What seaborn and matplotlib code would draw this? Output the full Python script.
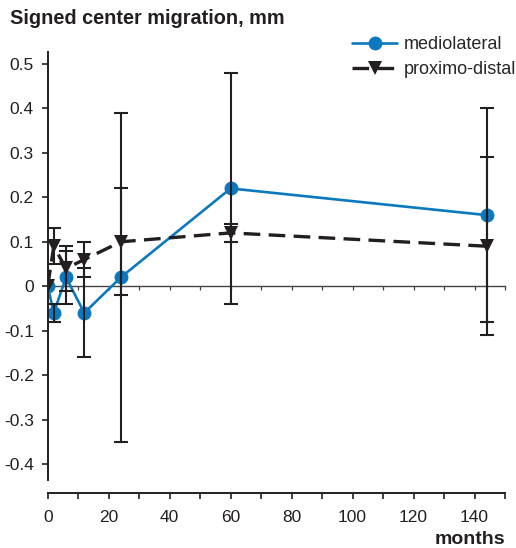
import numpy as np
import pandas as pd
import matplotlib
matplotlib.use('Agg')
import matplotlib.pyplot as plt
import seaborn as sns
from matplotlib.ticker import MultipleLocator, FuncFormatter

# values (months after surgery)
months = [0, 2, 6, 12, 24, 60, 144]
ml_mean = [0.0, -0.06, 0.02, -0.06, 0.02, 0.22, 0.16]
ml_err = [0.0, 0.02, 0.06, 0.10, 0.37, 0.26, 0.24]
pd_mean = [0.0, 0.09, 0.04, 0.06, 0.10, 0.12, 0.09]
pd_err = [0.0, 0.04, 0.05, 0.04, 0.12, 0.02, 0.20]
y_ticks = [0.5, 0.4, 0.3, 0.2, 0.1, 0, -0.1, -0.2, -0.3, -0.4]

blue = '#0b78bf'
dark = '#231f20'

sns.set_style('ticks')
plt.rcParams['font.family'] = ['Liberation Sans', 'DejaVu Sans']

fig = plt.figure(figsize=(5.16, 5.48), dpi=100)
ax = fig.add_axes([47.7 / 516, 1 - 480 / 548, (505 - 47.7) / 516, (480 - 52) / 548])

df = pd.DataFrame({'months': months, 'ml': ml_mean, 'ml_err': ml_err,
                   'pd': pd_mean, 'pd_err': pd_err})

sns.lineplot(data=df, x='months', y='ml', ax=ax, color=blue, marker='o',
             markersize=10, markeredgewidth=0, linewidth=1.9, label='mediolateral')
sns.lineplot(data=df, x='months', y='pd', ax=ax, color=dark, marker='v',
             markersize=10, markeredgewidth=0, linewidth=2.4,
             linestyle=(0, (5, 2.5)), label='proximo-distal')

# error bars (no bar at baseline)
e = df.iloc[1:]
ax.errorbar(e['months'], e['ml'], yerr=e['ml_err'], fmt='none', ecolor=dark,
            elinewidth=1.5, capsize=5, capthick=1.5, zorder=3)
ax.errorbar(e['months'], e['pd'], yerr=e['pd_err'], fmt='none', ecolor=dark,
            elinewidth=1.5, capsize=5, capthick=1.5, zorder=3)

ax.set_xlim(0, 150)
ax.set_ylim(-0.436, 0.527)
ax.set_yticks(y_ticks)
ax.set_yticklabels(['0' if v == 0 else f'{v:g}' for v in y_ticks])
ax.xaxis.set_major_locator(MultipleLocator(10))
ax.xaxis.set_major_formatter(FuncFormatter(lambda v, p: f'{v:.0f}' if v % 20 == 0 and v < 150 else ''))
ax.set_xlabel('')
ax.set_ylabel('')

for s in ['top', 'right']:
    ax.spines[s].set_visible(False)
ax.spines['left'].set_linewidth(1.4)
ax.spines['bottom'].set_linewidth(1.4)
ax.spines['left'].set_color(dark)
ax.spines['bottom'].set_color(dark)
ax.spines['bottom'].set_position(('outward', 9.4))
ax.tick_params(axis='both', direction='out', length=4, width=1.2, colors=dark,
               labelsize=12.5, labelcolor=dark)
ax.tick_params(axis='x', pad=8)
ax.tick_params(axis='y', pad=6)

# zero line with its own ticks
ax2 = ax.twiny()
ax2.set_xlim(ax.get_xlim())
for s in ['top', 'right', 'left']:
    ax2.spines[s].set_visible(False)
ax2.spines['bottom'].set_position(('data', 0))
ax2.spines['bottom'].set_linewidth(1.0)
ax2.spines['bottom'].set_color('#444444')
ax2.xaxis.set_ticks_position('bottom')
ax2.xaxis.set_major_locator(MultipleLocator(10))
ax2.tick_params(axis='x', direction='out', length=3, width=0.9, colors='#444444',
                labelbottom=False)
ax2.set_zorder(0)
ax.set_zorder(1)
ax.patch.set_visible(False)

ax.legend(loc='upper left', bbox_to_anchor=(352 / 516, 1 - 36 / 548),
          bbox_transform=fig.transFigure, frameon=False, fontsize=13,
          handlelength=2.5, handletextpad=0.35, labelspacing=0.45,
          borderpad=0, borderaxespad=0)

fig.text(10 / 516, 1 - 19 / 548, 'Signed center migration, mm', fontsize=14.3,
         fontweight='bold', color=dark, va='center', ha='left')
fig.text(505 / 516, 1 - 540 / 548, 'months', fontsize=14, fontweight='bold',
         color=dark, va='center', ha='right')

fig.savefig('out.png', dpi=100)
